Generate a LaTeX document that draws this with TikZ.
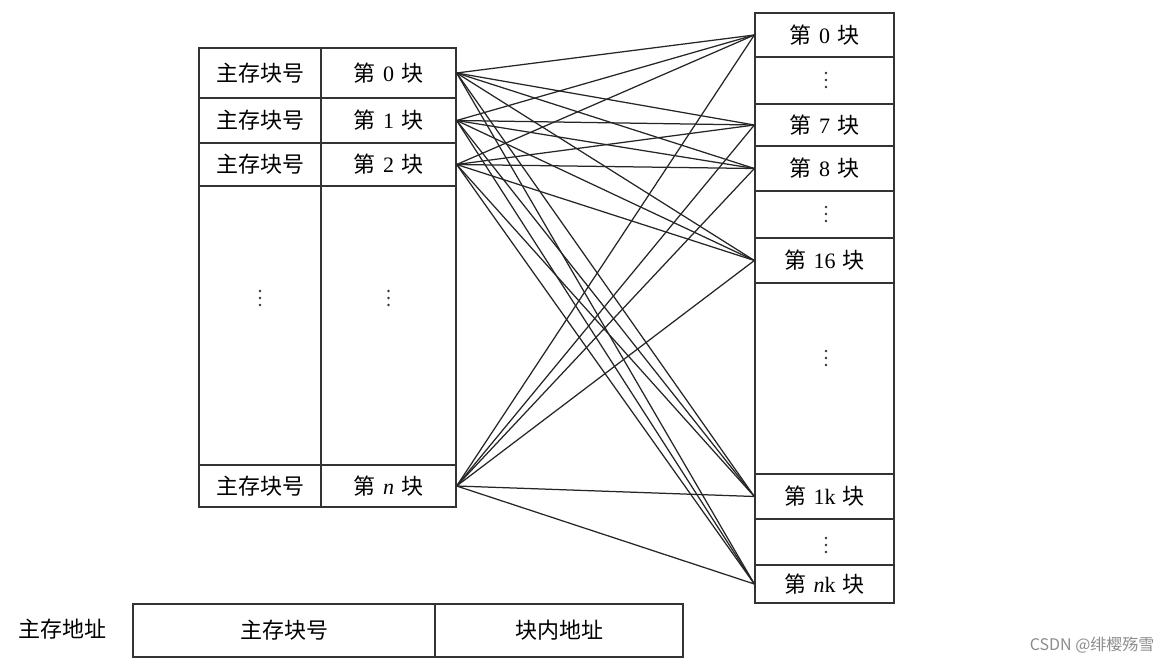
\documentclass[tikz,border=0pt]{standalone}
\usepackage{fontspec}
\setmainfont{Liberation Serif}
\newfontfamily\cjk{Noto Sans CJK SC}
\newcommand{\blk}[1]{{\cjk 第}\,\,#1\,\,{\cjk 块}}
\begin{document}
\begin{tikzpicture}[x=1pt,y=-1pt,
  cell/.style={draw=black!80,line width=1.3pt,inner sep=0pt,anchor=center,font=\fontsize{22}{24}\selectfont},
  link/.style={draw=black!85,line width=1.25pt},
  vdot/.style={fill=black!80,draw=none}]
\useasboundingbox (0,0) rectangle (1172,671);
\newcommand{\vdts}[1]{\foreach \dy in {-7,0,7} \fill[vdot] ($(#1)+(0,\dy)$) circle (1.3pt);}
% left table
\node[cell,minimum width=122pt,minimum height=50pt] (A0) at (260,73) {\cjk 主存块号};
\node[cell,minimum width=135pt,minimum height=50pt] (L0) at (388.5,73) {\blk{0}};
\node[cell,minimum width=122pt,minimum height=45pt] (A1) at (260,120.5) {\cjk 主存块号};
\node[cell,minimum width=135pt,minimum height=45pt] (L1) at (388.5,120.5) {\blk{1}};
\node[cell,minimum width=122pt,minimum height=43pt] (A2) at (260,164.5) {\cjk 主存块号};
\node[cell,minimum width=135pt,minimum height=43pt] (L2) at (388.5,164.5) {\blk{2}};
\node[cell,minimum width=122pt,minimum height=279pt] (AD) at (260,325.5) {};
\node[cell,minimum width=135pt,minimum height=279pt] (LD) at (388.5,325.5) {};
\node[cell,minimum width=122pt,minimum height=42pt] (An) at (260,486) {\cjk 主存块号};
\node[cell,minimum width=135pt,minimum height=42pt] (Ln) at (388.5,486) {\blk{\textit{n}}};
% right table
\node[cell,minimum width=139pt,minimum height=44pt] (R0) at (824.5,35) {\blk{0}};
\node[cell,minimum width=139pt,minimum height=47pt] (RD1) at (824.5,80.5) {};
\node[cell,minimum width=139pt,minimum height=42pt] (R7) at (824.5,125) {\blk{7}};
\node[cell,minimum width=139pt,minimum height=45pt] (R8) at (824.5,168.5) {\blk{8}};
\node[cell,minimum width=139pt,minimum height=47pt] (RD2) at (824.5,214.5) {};
\node[cell,minimum width=139pt,minimum height=45pt] (R16) at (824.5,260.5) {\blk{16}};
\node[cell,minimum width=139pt,minimum height=191pt] (RD3) at (824.5,378.5) {};
\node[cell,minimum width=139pt,minimum height=45pt] (R1k) at (824.5,496.5) {\blk{1k}};
\node[cell,minimum width=139pt,minimum height=46pt] (RD4) at (824.5,542) {};
\node[cell,minimum width=139pt,minimum height=38pt] (Rnk) at (824.5,584) {\blk{\textit{n}k}};
% vertical dots
\foreach \x/\y in {260/298, 388.5/298, 826/80, 826/214, 826/358, 826/545}
  \foreach \dy in {-7,0,7}
    \fill[vdot] (\x,\y+\dy) circle (1.3pt);
% connectors
\foreach \a in {L0,L1,L2,Ln}
  \foreach \b in {R0,R7,R8,R16,R1k,Rnk}
    \draw[link] (\a.east) -- (\b.west);
% address bar
\node[font=\fontsize{22}{24}\selectfont] (lbl) at (62,629) {\cjk 主存地址};
\node[cell,minimum width=302pt,minimum height=53pt] (B1) at (284,630.5) {\cjk 主存块号};
\node[cell,minimum width=248pt,minimum height=53pt] (B2) at (559,630.5) {\cjk 块内地址};
% watermark
\node[font=\fontsize{16}{18}\selectfont,text=black!45,anchor=east] (wm) at (1158,645) {\cjk CSDN @绯樱殇雪};
\end{tikzpicture}
\end{document}
